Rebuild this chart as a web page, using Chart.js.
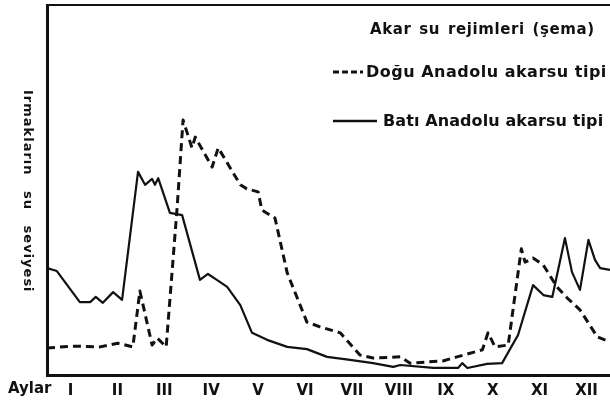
<!DOCTYPE html>
<html>
<head>
<meta charset="utf-8">
<script src="https://cdn.jsdelivr.net/npm/chart.js@4.4.0/dist/chart.umd.min.js"></script>
<style>
  html, body { margin:0; padding:0; background:#fff; }
  #wrap { position:relative; width:610px; height:404px; overflow:hidden; }
  #chart { position:absolute; left:0; top:0; }
  .lbl { position:absolute; font-family:"DejaVu Sans", Arial, sans-serif; font-weight:bold; color:#111; white-space:nowrap; line-height:1; }
  #title { left:370px; top:22px; font-size:15px; letter-spacing:0.6px; word-spacing:2px; }
  #leg1 { left:366px; top:64px; font-size:16px; letter-spacing:0.5px; }
  #leg2 { left:383px; top:113px; font-size:16px; letter-spacing:0.1px; }
  #ytitle { left:22px; top:90px; font-size:13px; writing-mode:vertical-rl; letter-spacing:1px; word-spacing:10px; }
  #aylar { left:8px; top:381px; font-size:15px; }
  svg.sample { position:absolute; }
</style>
</head>
<body>
<div id="wrap">
  <canvas id="chart" width="610" height="404"></canvas>
  <div class="lbl" id="title">Akar su rejimleri (şema)</div>
  <svg class="sample" style="left:332px;top:69px" width="32" height="6"><line x1="1" y1="3" x2="31" y2="3" stroke="#111" stroke-width="3" stroke-dasharray="6,3"/></svg>
  <div class="lbl" id="leg1">Doğu Anadolu akarsu tipi</div>
  <svg class="sample" style="left:332px;top:118px" width="46" height="6"><line x1="1" y1="3" x2="45" y2="3" stroke="#111" stroke-width="2.5"/></svg>
  <div class="lbl" id="leg2">Batı Anadolu akarsu tipi</div>
  <div class="lbl" id="ytitle">Irmakların su seviyesi</div>
  <div class="lbl" id="aylar">Aylar</div>
</div>
<script>
// ============ DATA ============
const months = ['I','II','III','IV','V','VI','VII','VIII','IX','X','XI','XII'];

// Doğu Anadolu (dashed) - x in months from start of Jan, y = relative level 0-100
const doguX = [0,0.55,1.13,1.51,1.83,1.98,2.24,2.35,2.54,2.77,2.90,3.09,3.16,3.52,3.65,4.12,4.26,4.50,4.58,4.86,5.12,5.54,5.82,6.25,6.67,6.95,7.53,7.74,8.44,8.74,9.28,9.40,9.55,9.83,10.11,10.19,10.36,10.58,10.87,11.09,11.36,11.73,12];
const doguY = [7.3,7.8,7.6,8.6,7.6,22.7,8.1,10.0,7.6,44.6,68.9,61.4,64.3,56.2,61.4,51.4,50.3,49.5,44.6,42.4,27.6,14.3,13.0,11.4,5.4,4.6,4.9,3.2,3.8,4.9,6.8,11.4,7.6,8.1,34.1,30.5,31.6,29.7,23.8,20.8,17.6,10.3,8.9];

// Batı Anadolu (solid)
const batiX = [0,0.21,0.70,0.92,1.04,1.19,1.41,1.60,1.94,2.09,2.24,2.30,2.37,2.62,2.88,3.26,3.43,3.62,3.84,4.12,4.37,4.69,5.12,5.54,5.97,6.46,6.95,7.38,7.53,8.23,8.76,8.85,8.96,9.38,9.70,10.04,10.36,10.58,10.77,11.04,11.19,11.36,11.54,11.68,11.79,12];
const batiY = [28.9,28.1,19.7,19.7,21.1,19.5,22.4,20.3,54.9,51.4,53.0,51.4,53.2,43.8,43.2,25.7,27.3,25.7,23.8,18.9,11.4,9.5,7.6,7.0,4.9,4.1,3.2,2.2,2.7,1.9,1.9,3.2,1.9,3.0,3.2,10.8,24.3,21.6,21.1,37.0,27.8,23.0,36.5,31.1,28.9,28.4];

const FONT = '"DejaVu Sans", Arial, sans-serif';

// top frame line of the plot
const topLine = {
  id: 'topLine',
  afterDraw(chart) {
    const { ctx, chartArea } = chart;
    ctx.save();
    ctx.strokeStyle = '#111';
    ctx.lineWidth = 2;
    ctx.beginPath();
    ctx.moveTo(chartArea.left, chartArea.top);
    ctx.lineTo(chartArea.right, chartArea.top);
    ctx.stroke();
    ctx.restore();
  }
};

const ctx = document.getElementById('chart');
new Chart(ctx, {
  type: 'line',
  data: {
    datasets: [
      { label: 'Doğu Anadolu akarsu tipi', data: doguX.map((x,i)=>({x, y: doguY[i]})),
        borderColor: '#111', borderWidth: 3, borderDash: [8,5], pointRadius: 0,
        tension: 0, borderJoinStyle: 'round', fill: false },
      { label: 'Batı Anadolu akarsu tipi', data: batiX.map((x,i)=>({x, y: batiY[i]})),
        borderColor: '#111', borderWidth: 2.2, pointRadius: 0,
        tension: 0, borderJoinStyle: 'round', fill: false }
    ]
  },
  options: {
    responsive: false, animation: false,
    layout: { padding: { top: 5, left: 0, right: 0, bottom: 0 } },
    plugins: { legend: { display: false }, tooltip: { enabled: false } },
    scales: {
      x: {
        type: 'linear', min: 0, max: 12,
        grid: { display: false, drawTicks: false },
        border: { color: '#111', width: 3 },
        afterBuildTicks: s => { s.ticks = months.map((m,i)=>({ value: i + 0.5 })); },
        afterFit: s => { s.height = 29; },
        ticks: { autoSkip: false, maxRotation: 0, padding: 7, color: '#111',
                 font: { family: FONT, size: 15, weight: 'bold' },
                 callback: (v, i) => months[i] }
      },
      y: {
        min: 0, max: 100,
        ticks: { display: false },
        grid: { display: false, drawTicks: false },
        border: { color: '#111', width: 3 },
        afterFit: s => { s.width = 47; }
      }
    }
  },
  plugins: [topLine]
});
</script>
</body>
</html>
